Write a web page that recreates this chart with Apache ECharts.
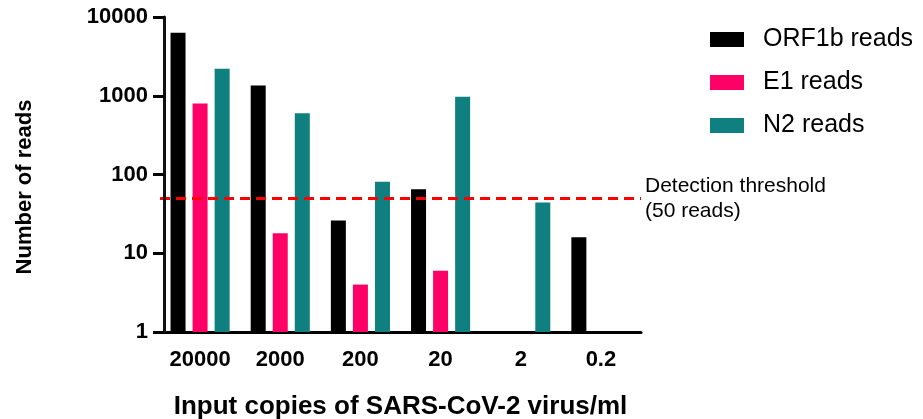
<!DOCTYPE html>
<html>
<head>
<meta charset="utf-8">
<script src="https://cdn.jsdelivr.net/npm/echarts@6/dist/echarts.min.js"></script>
<style>
  html, body { margin: 0; padding: 0; background: #fff; }
  #chart { width: 923px; height: 419px; }
</style>
</head>
<body>
<div id="chart"></div>
<script>
// input copies per ml (x categories)
var categories = ['20000', '2000', '200', '20', '2', '0.2']
// reads per target, '-' = no bar
var orf1b = [6300, 1350, 26, 65, '-', 16]
var e1 = [800, 18, 4, 6, '-', '-']
var n2 = [2200, 600, 81, 970, 44, '-']
var threshold = 50
var yTicks = [1, 10, 100, 1000, 10000]

var font = 'Liberation Sans, Arial, sans-serif'
var chart = echarts.init(document.getElementById('chart'))

chart.setOption({
  animation: false,
  textStyle: { fontFamily: font },
  grid: { left: 160, right: 282, top: 17, bottom: 87, outerBoundsMode: 'none', containLabel: false },
  legend: {
    orient: 'vertical',
    left: 705,
    top: 22,
    itemWidth: 34,
    itemHeight: 15,
    itemGap: 18,
    icon: 'rect',
    textStyle: { fontSize: 25, color: '#000', fontFamily: font, padding: [0, 0, 0, 14] },
    data: ['ORF1b reads', 'E1 reads', 'N2 reads']
  },
  xAxis: {
    type: 'category',
    data: categories,
    name: 'Input copies of SARS-CoV-2 virus/ml',
    nameLocation: 'middle',
    nameGap: 62,
    nameTextStyle: { fontSize: 26, fontWeight: 'bold', color: '#000', fontFamily: font },
    axisLine: { onZero: false, lineStyle: { color: '#000', width: 3 } },
    axisTick: { alignWithLabel: true, length: 11, lineStyle: { color: '#000', width: 3 } },
    axisLabel: { fontSize: 22, fontWeight: 'bold', color: '#000', margin: 17, fontFamily: font }
  },
  yAxis: {
    type: 'log',
    position: 'left',
    logBase: 10,
    min: yTicks[0],
    max: yTicks[yTicks.length - 1],
    offset: -4,
    z: 10,
    name: 'Number of reads',
    nameLocation: 'middle',
    nameGap: 128,
    nameTextStyle: { fontSize: 22, fontWeight: 'bold', color: '#000', fontFamily: font, padding: [0, 25, 0, 0] },
    axisLine: { show: true, onZero: false, lineStyle: { color: '#111111', width: 3, opacity: 1 } },
    axisTick: { show: true, length: 11, lineStyle: { color: '#000', width: 3 } },
    axisLabel: {
      fontSize: 22, fontWeight: 'bold', color: '#000', margin: 16, fontFamily: font,
      formatter: function (v) { return String(v) }
    },
    splitLine: { show: false }
  },
  series: [
    {
      name: 'ORF1b reads',
      type: 'bar',
      data: orf1b,
      barWidth: 15,
      barGap: '47%',
      itemStyle: { color: '#000000' },
      markLine: {
        silent: true,
        symbol: 'none',
        lineStyle: { color: '#ff0000', width: 3, type: [10, 6], opacity: 1 },
        label: {
          show: true,
          position: 'end',
          distance: 4,
          formatter: 'Detection threshold\n(50 reads)',
          fontSize: 21,
          lineHeight: 25,
          color: '#000',
          fontFamily: font
        },
        data: [{ yAxis: threshold }]
      }
    },
    {
      name: 'E1 reads',
      type: 'bar',
      data: e1,
      barWidth: 15,
      barGap: '47%',
      itemStyle: { color: '#ff0066' }
    },
    {
      name: 'N2 reads',
      type: 'bar',
      data: n2,
      barWidth: 15,
      barGap: '47%',
      itemStyle: { color: '#107f7f' }
    }
  ]
})
</script>
</body>
</html>
